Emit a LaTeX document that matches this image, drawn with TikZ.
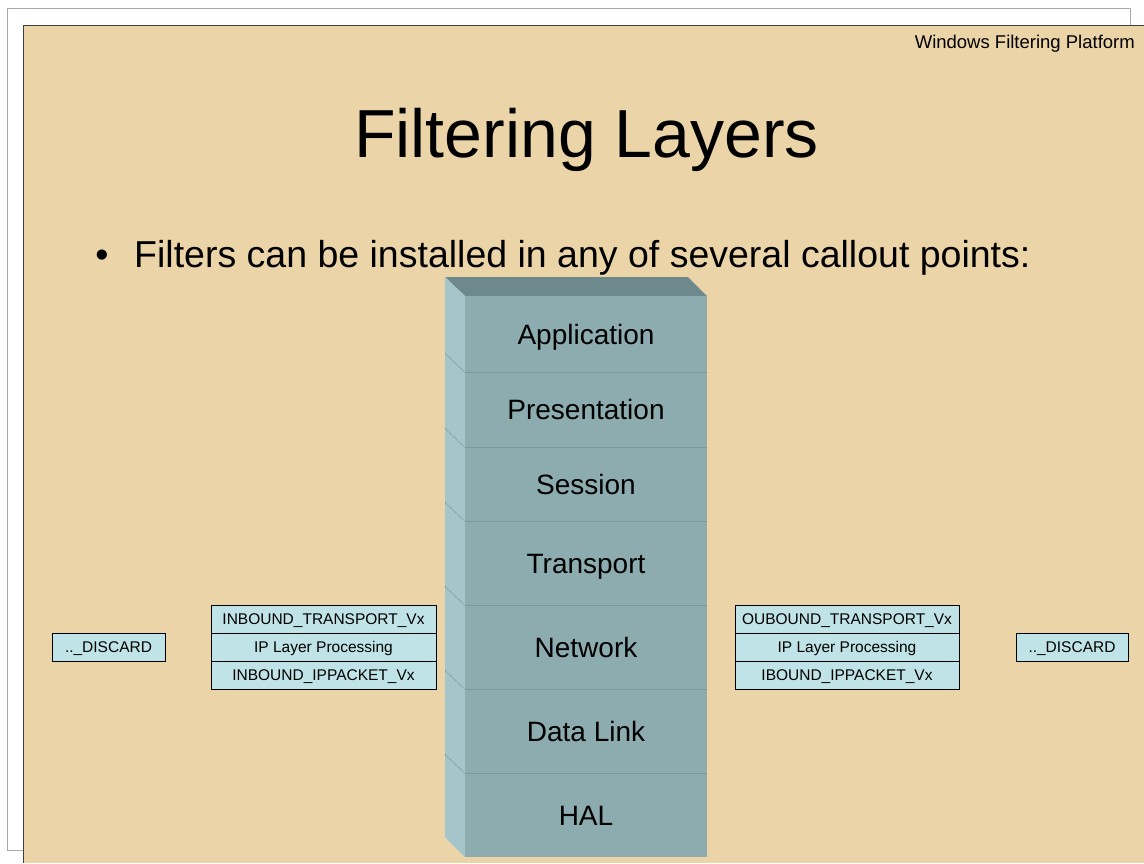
\documentclass[tikz,border=0pt]{standalone}
\usepackage{fontspec}
\setmainfont{Liberation Sans}
\definecolor{paper}{HTML}{EBD5A8}
\definecolor{frontc}{HTML}{8DACAF}
\definecolor{topc}{HTML}{6E898B}
\definecolor{sidec}{HTML}{A4C5C9}
\definecolor{divc}{HTML}{7B989B}
\definecolor{boxc}{HTML}{BFE3E6}
\definecolor{framec}{HTML}{A8A8A8}
\tikzset{
  layer/.style={rectangle, fill=frontc, draw=none, minimum width=242pt, minimum height=84pt, inner sep=0pt, text height=20pt, text depth=0pt, font=\fontsize{28}{32}\selectfont},
  smallbox/.style={rectangle, fill=boxc, draw=black, line width=0.8pt, minimum height=28pt, inner sep=0pt, text height=11pt, text depth=0pt, font=\fontsize{15.5}{18}\selectfont},
}
\begin{document}
\begin{tikzpicture}[x=1pt,y=-1pt]
\useasboundingbox (0,0) rectangle (1144,863);
\fill[white] (0,0) rectangle (1144,863);
% outer grey frame
\draw[framec, line width=0.8pt] (23,850) -- (7,850) -- (7,8) -- (1130,8) -- (1130,25);
% slide
\fill[paper] (23,25) rectangle (1144,863);
\draw[black!75, line width=1pt] (23,863) -- (23,25) -- (1144,25);
% header
\node[anchor=base east, font=\fontsize{18.5}{22}\selectfont, inner sep=0pt] (hdr) at (1135,48) {Windows Filtering Platform};
% title
\node[anchor=base, font=\fontsize{68}{80}\selectfont, inner sep=0pt] (title) at (586.5,157) {Filtering Layers};
% bullet
\node[anchor=base, font=\fontsize{37.5}{44}\selectfont, inner sep=0pt] (bul) at (102,267) {•};
\node[anchor=base west, font=\fontsize{37.5}{44}\selectfont, inner sep=0pt] (btext) at (134,267) {Filters can be installed in any of several callout points:};
% stack: top and side faces
\fill[topc] (445,277) -- (688,277) -- (707,296) -- (465,296) -- cycle;
\fill[sidec] (445,277) -- (465,296) -- (465,857) -- (445,837) -- cycle;
% layers
\node[layer, minimum height=76pt] (app) at (586,334) {Application};
\node[layer, minimum height=75pt] (pres) at (586,409.5) {Presentation};
\node[layer, minimum height=74pt] (sess) at (586,484) {Session};
\node[layer] (trans) at (586,563) {Transport};
\node[layer] (net) at (586,647) {Network};
\node[layer] (dl) at (586,731) {Data Link};
\node[layer] (hal) at (586,815) {HAL};
% dividers
\foreach \a/\b in {app/pres, pres/sess, sess/trans, trans/net, net/dl, dl/hal} {
  \draw[divc, line width=1.2pt] (\a.south west) -- (\a.south east);
  \draw[divc!80!sidec, line width=0.6pt] (\a.south west) -- ++(-20,-19);
}
% left callouts
\node[smallbox, minimum width=225pt] (lt) at (323.5,619) {INBOUND\_TRANSPORT\_Vx};
\node[smallbox, minimum width=225pt] (lip) at (323.5,647) {IP Layer Processing};
\node[smallbox, minimum width=225pt] (lp) at (323.5,675) {INBOUND\_IPPACKET\_Vx};
\node[smallbox, minimum width=113pt] (ld) at (108.5,647) {..\_DISCARD};
% right callouts
\node[smallbox, minimum width=224pt] (rt) at (847,619) {OUBOUND\_TRANSPORT\_Vx};
\node[smallbox, minimum width=224pt] (rip) at (847,647) {IP Layer Processing};
\node[smallbox, minimum width=224pt] (rp) at (847,675) {IBOUND\_IPPACKET\_Vx};
\node[smallbox, minimum width=112pt] (rd) at (1072,647) {..\_DISCARD};
\end{tikzpicture}
\end{document}
